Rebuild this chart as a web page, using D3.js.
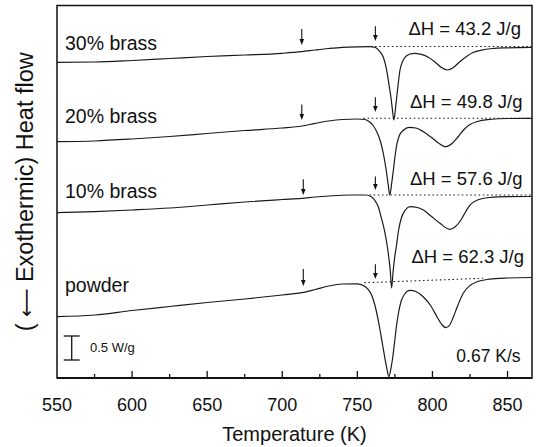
<!DOCTYPE html>
<html><head><meta charset="utf-8">
<script src="https://cdn.jsdelivr.net/npm/d3@7"></script>
<style>
body{margin:0;background:#fff}
svg{display:block}
text{font-family:"Liberation Sans",Arial,Helvetica,sans-serif;fill:#111}
</style>
</head><body>
<svg id="c" width="544" height="447"></svg>
<script>
// ---------- data ----------
const tempTicks = [550, 600, 650, 700, 750, 800, 850];
const minorTicks = [575, 625, 675, 725, 775, 825];
const seriesNames = ["30% brass", "20% brass", "10% brass", "powder"];
const enthalpyLabels = ["\u0394H = 43.2 J/g", "\u0394H = 49.8 J/g", "\u0394H = 57.6 J/g", "\u0394H = 62.3 J/g"];

// [temperature K, heat flow W/g (curves offset vertically)]
const brass30 = [[550,6.577],[575,6.583],[600,6.615],[625,6.656],[650,6.698],[675,6.729],[700,6.765],[713,6.798],[722,6.833],[731,6.865],[740,6.890],[750,6.900],[758,6.902],[762,6.885],[765,6.798],[767.5,6.667],[769.5,6.417],[771,6.125],[772.6,5.792],[773.6,5.521],[774.3,5.375],[775,5.5],[776,5.792],[777.2,6.125],[778.4,6.417],[780,6.583],[782,6.688],[785,6.75],[788,6.765],[792,6.746],[797,6.688],[802,6.573],[806,6.469],[810,6.417],[814,6.469],[818,6.583],[822.5,6.694],[827,6.781],[832,6.827],[840,6.865],[850,6.879],[866,6.890]];
const brass20 = [[550,4.923],[575,4.938],[600,4.979],[625,5.031],[650,5.094],[675,5.156],[700,5.208],[713,5.25],[722,5.306],[731,5.354],[740,5.385],[750,5.396],[755,5.385],[758,5.340],[760.5,5.260],[763,5.125],[765.5,4.917],[767.5,4.646],[769.2,4.333],[770.5,4.042],[771.6,3.813],[772.8,4.042],[774,4.333],[775.2,4.646],[776.5,4.896],[778,5.052],[780.5,5.156],[784.5,5.223],[789,5.208],[794,5.131],[799,5.021],[804,4.896],[809,4.819],[813,4.885],[817,5.021],[821,5.177],[825,5.281],[830,5.344],[838,5.385],[850,5.406],[866,5.410]];
const brass10 = [[550,3.444],[575,3.465],[600,3.5],[625,3.542],[650,3.604],[675,3.667],[700,3.719],[713,3.744],[722,3.771],[731,3.792],[745,3.813],[756,3.813],[759,3.781],[761.5,3.708],[764,3.563],[766,3.333],[768,3.083],[769.8,2.771],[771,2.5],[772,2.208],[772.8,1.875],[773.8,2.208],[774.8,2.5],[776,2.75],[777.5,3.083],[779.3,3.333],[782,3.5],[785,3.569],[790,3.552],[794,3.5],[799,3.375],[805,3.223],[811.5,3.098],[815,3.146],[819,3.292],[822,3.458],[825,3.604],[830,3.708],[838,3.760],[850,3.777],[866,3.781]];
const powder = [[550,1.277],[575,1.313],[600,1.406],[625,1.490],[650,1.573],[675,1.646],[700,1.729],[713,1.777],[722,1.844],[731,1.917],[740,1.958],[750,1.963],[754,1.927],[757,1.854],[759.5,1.729],[762,1.479],[764.5,1.104],[766.5,0.75],[768.2,0.438],[769.6,0.208],[771,0.027],[772.4,0.208],[773.6,0.438],[774.8,0.75],[776,1.063],[777.5,1.375],[779,1.583],[781.5,1.75],[785,1.827],[789,1.802],[794,1.688],[799,1.5],[803.5,1.25],[806.5,1.104],[809,1.048],[811.5,1.104],[814,1.277],[817,1.521],[820.5,1.765],[825,1.927],[830,2.010],[838,2.058],[850,2.083],[866,2.094]];

// dotted integration baselines
const baseline30 = [[759,6.906],[866,6.906]];
const baseline20 = [[754,5.41],[866,5.41]];
const baseline10 = [[758,3.813],[866,3.813]];
const baselinePowder = [[754.6,1.985],[833.6,2.077]];

// arrow markers: [temperature, top value, tip value]
const arrows30 = [[713,7.27,6.938],[762,7.33,7.021]];
const arrows20 = [[713,5.70,5.375],[762,5.85,5.542]];
const arrows10 = [[714,4.14,3.813],[762,4.20,3.917]];
const arrowsPowder = [[714,2.27,1.917],[762,2.37,2.063]];

// label anchors (data units)
const nameAnchors = [[555.3,6.833],[555.3,5.319],[555.3,3.75],[555.3,1.792]];
const dhAnchors = [[784,7.14],[785,5.63],[785,4.03],[786,2.40]];
const scaleBar = [559.8, 0.375, 0.875]; // T, low, high (0.5 W/g)

const curves = [brass30, brass20, brass10, powder];
const baselines = [baseline30, baseline20, baseline10, baselinePowder];
const arrowSets = [arrows30, arrows20, arrows10, arrowsPowder];

// ---------- layout ----------
const L = 57, R = 532, T = 5.5, B = 378;
const svg = d3.select("#c");
const x = d3.scaleLinear().domain([550, 866.3]).range([L, R]);
const y = d3.scaleLinear().domain([0, (B - T) / 48]).range([B, T]);

const line = d3.line().x(d => x(d[0])).y(d => y(d[1])).curve(d3.curveMonotoneX);

// curves
svg.append("g").selectAll("path").data(curves).join("path")
  .attr("d", line).attr("fill", "none").attr("stroke", "#1a1a1a").attr("stroke-width", 1.2);

// dotted baselines
svg.append("g").selectAll("path").data(baselines).join("path")
  .attr("d", d3.line().x(d => x(d[0])).y(d => y(d[1])))
  .attr("fill", "none").attr("stroke", "#222").attr("stroke-width", 1.1)
  .attr("stroke-dasharray", "1.6,2.6");

// arrows
const ag = svg.append("g");
arrowSets.flat().forEach(a => {
  const ax = x(a[0]), y0 = y(a[1]), y1 = y(a[2]);
  ag.append("line").attr("x1", ax).attr("x2", ax).attr("y1", y0).attr("y2", y1 - 4)
    .attr("stroke", "#111").attr("stroke-width", 1.1);
  ag.append("path").attr("d", `M${ax - 2.3},${y1 - 6}L${ax + 2.3},${y1 - 6}L${ax},${y1}Z`).attr("fill", "#111");
});

// frame
svg.append("rect").attr("x", L).attr("y", T).attr("width", R - L).attr("height", B - T)
  .attr("fill", "none").attr("stroke", "#111").attr("stroke-width", 1.5);
svg.append("line").attr("x1", L).attr("x2", R).attr("y1", B).attr("y2", B)
  .attr("stroke", "#111").attr("stroke-width", 2);

// x ticks (inward)
svg.append("g").selectAll("line.maj").data(tempTicks.slice(1)).join("line")
  .attr("x1", d => x(d)).attr("x2", d => x(d)).attr("y1", B).attr("y2", B - 7)
  .attr("stroke", "#111").attr("stroke-width", 1.3);
svg.append("g").selectAll("line.min").data(minorTicks).join("line")
  .attr("x1", d => x(d)).attr("x2", d => x(d)).attr("y1", B).attr("y2", B - 4)
  .attr("stroke", "#111").attr("stroke-width", 1.3);
svg.append("g").selectAll("text").data(tempTicks).join("text")
  .attr("x", d => x(d)).attr("y", 411).attr("text-anchor", "middle")
  .attr("font-size", 18).text(d => d);

// axis titles
svg.append("text").attr("x", (L + R) / 2).attr("y", 441).attr("text-anchor", "middle")
  .attr("font-size", 20).text("Temperature (K)");
const yt = svg.append("text").attr("transform", `translate(33,${(T + B) / 2}) rotate(-90)`)
  .attr("text-anchor", "middle").attr("font-size", 22);
yt.append("tspan").text("(");
yt.append("tspan").attr("font-family", "DejaVu Sans").attr("font-size", 20).text(" \u27F5 ");
yt.append("tspan").text("Exothermic) Heat flow");
// fit label to the reference's length
const len = yt.node().getComputedTextLength();
if (len > 0) yt.attr("font-size", 22 * Math.min(1.15, 282 / len));

// series labels
svg.append("g").selectAll("text").data(seriesNames).join("text")
  .attr("x", (d, i) => x(nameAnchors[i][0])).attr("y", (d, i) => y(nameAnchors[i][1]))
  .attr("font-size", 19.5).text(d => d);
svg.append("g").selectAll("text").data(enthalpyLabels).join("text")
  .attr("x", (d, i) => x(dhAnchors[i][0])).attr("y", (d, i) => y(dhAnchors[i][1]))
  .attr("font-size", 18.5).text(d => d);

// scale bar
const sx = x(scaleBar[0]), sy0 = y(scaleBar[1]), sy1 = y(scaleBar[2]);
const sb = svg.append("g").attr("stroke", "#111").attr("stroke-width", 1.3);
sb.append("line").attr("x1", sx).attr("x2", sx).attr("y1", sy0).attr("y2", sy1);
sb.append("line").attr("x1", sx - 8).attr("x2", sx + 8).attr("y1", sy0).attr("y2", sy0);
sb.append("line").attr("x1", sx - 8).attr("x2", sx + 8).attr("y1", sy1).attr("y2", sy1);
svg.append("text").attr("x", x(572)).attr("y", y(0.548)).attr("font-size", 13).text("0.5 W/g");
svg.append("text").attr("x", x(858.7)).attr("y", y(0.333)).attr("text-anchor", "end")
  .attr("font-size", 17.5).text("0.67 K/s");
</script>
</body></html>
